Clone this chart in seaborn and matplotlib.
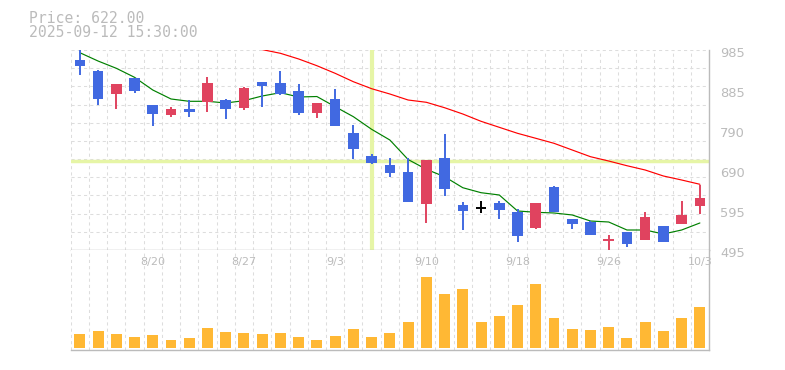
import matplotlib
matplotlib.use("Agg")
import matplotlib.pyplot as plt
import matplotlib.transforms as mtrans
import numpy as np
import pandas as pd
import seaborn as sns

# ---------------- data ----------------
dates = ["8/14", "8/15", "8/18", "8/19", "8/20", "8/21", "8/22", "8/25", "8/26", "8/27",
         "8/28", "8/29", "9/1", "9/2", "9/3", "9/4", "9/5", "9/8", "9/9", "9/10",
         "9/11", "9/12", "9/16", "9/17", "9/18", "9/19", "9/22", "9/24", "9/25", "9/26",
         "9/29", "9/30", "10/1", "10/2", "10/3"]
opens = [960.5, 933.5, 878.0, 916.4, 851.0, 825.8, 840.5, 858.4, 862.5, 842.9,
         906.6, 904.2, 884.6, 831.4, 865.0, 781.7, 725.3, 703.2, 686.1, 608.4,
         720.4, 605.3, 598.7, 610.2, 588.1, 549.6, 649.4, 570.9, 564.3, 519.5,
         539.1, 520.2, 553.8, 559.4, 603.5]
closes = [946.5, 865.0, 901.7, 884.5, 828.2, 840.5, 833.0, 904.2, 840.5, 891.9,
          896.8, 877.2, 830.6, 855.2, 798.8, 743.2, 708.9, 682.9, 613.3, 715.5,
          645.2, 591.3, 598.7, 593.7, 530.0, 610.2, 588.8, 559.4, 532.5, 520.0,
          510.4, 575.9, 515.3, 580.8, 622.0]
highs = [985.0, 936.0, 902.0, 917.0, 851.0, 845.4, 862.5, 918.9, 865.0, 894.4,
         906.6, 933.6, 901.7, 855.2, 889.5, 801.3, 730.2, 720.4, 720.4, 715.5,
         779.2, 612.6, 615.8, 615.0, 595.5, 610.2, 651.8, 570.9, 565.0, 531.8,
         539.1, 588.1, 553.8, 615.0, 654.3]
lows = [924.5, 850.0, 840.5, 880.4, 799.5, 820.9, 820.9, 833.1, 815.9, 838.0,
        845.4, 875.5, 825.8, 819.0, 798.8, 718.0, 705.7, 674.6, 613.3, 561.9,
        628.0, 544.7, 586.4, 571.7, 515.3, 547.2, 588.8, 547.2, 532.5, 496.0,
        503.0, 520.2, 515.3, 559.4, 584.0]
volume = [140, 170, 140, 110, 130, 80, 100, 200, 160, 150,
          140, 150, 110, 80, 120, 190, 110, 150, 260, 713,
          540, 590, 260, 320, 430, 640, 300, 190, 180, 210,
          100, 260, 170, 300, 410]
ma_short = [978.4, 958.0, 940.2, 918.1, 887.0, 865.0, 859.3, 859.3, 855.2, 860.8,
            872.3, 880.4, 869.9, 871.0, 846.1, 821.6, 790.7, 764.5, 716.7, 692.7,
            674.6, 647.6, 635.4, 629.8, 590.6, 587.4, 585.7, 580.8, 566.0, 563.6,
            544.0, 544.0, 534.2, 544.0, 561.2]
ma_long = [np.nan] * 10 + [986.0, 976.9, 963.0, 946.5, 927.9, 907.3, 890.2, 877.2, 862.5, 856.9,
                           843.6, 828.2, 810.3, 795.6, 780.9, 768.7, 756.4, 740.0, 723.6, 713.0,
                           701.5, 691.0, 676.3, 666.5, 656.0]
price_ticks = [985, 887, 789, 691, 593, 495]
price_tick_labels = ["985", "885", "790", "690", "595", "495"]
date_tick_labels = ["8/20", "8/27", "9/3", "9/10", "9/18", "9/26", "10/3"]
title_lines = ["Price: 622.00", "2025-09-12 15:30:00"]
cross_index = 16
cross_price = 712.0

# ---------------- style ----------------
sns.set_theme(style="white")
plt.rcParams["font.family"] = ["DejaVu Sans"]
UP = "#E0435F"
DOWN = "#4169E1"
FLAT = "#000000"
VOL = "#FFB834"
GRID = "#DDDDDD"
AXIS = "#BBBBBB"
TXT = "#BBBBBB"
CROSS = "#E6F5A6"

df = pd.DataFrame({"i": np.arange(len(dates)), "date": dates, "open": opens, "close": closes,
                   "high": highs, "low": lows, "volume": volume,
                   "ma_short": ma_short, "ma_long": ma_long})

W, H = 785, 370
fig = plt.figure(figsize=(W / 100, H / 100), dpi=100)
L, R = 70.7, 709.0
ax = fig.add_axes([L / W, 1 - 250 / H, (R - L) / W, 200 / H])
axv = fig.add_axes([L / W, 1 - 350 / H, (R - L) / W, 100 / H])

n = len(df)
xlim = (-0.5, n - 0.5)
ylo, yhi = 495, 985

for a in (ax, axv):
    a.set_xlim(*xlim)
    a.set_facecolor("white")
    for s in ("top", "left"):
        a.spines[s].set_visible(False)
    for s in ("bottom", "right"):
        a.spines[s].set_visible(True)
        a.spines[s].set_color(AXIS)
        a.spines[s].set_linewidth(1.0)
    a.tick_params(left=False, right=False, bottom=False, top=False,
                  labelleft=False, labelright=False, labelbottom=False)
    a.set_xticks(np.arange(-0.5, n, 1.0))
    a.grid(True, axis="x", color=GRID, linestyle=(0, (3, 3)), linewidth=0.75)
    a.set_axisbelow(True)
    a.set_xlabel("")
    a.set_ylabel("")

ax.set_ylim(ylo, yhi)
ax.set_yticks(np.linspace(ylo, yhi, 12))
ax.grid(True, axis="y", color=GRID, linestyle=(0, (3, 3)), linewidth=0.75)

# crosshair
ax.axvline(cross_index, color=CROSS, linewidth=3.0, zorder=1)
ax.axhline(cross_price, color=CROSS, linewidth=2.5, zorder=1)

# moving averages
sns.lineplot(data=df, x="i", y="ma_short", ax=ax, color="#008000", linewidth=0.85,
             legend=False, zorder=3)
sns.lineplot(data=df.dropna(subset=["ma_long"]), x="i", y="ma_long", ax=ax, color="#FF0000",
             linewidth=0.85, legend=False, zorder=3)

# candles
bw = 0.58
for r in df.itertuples():
    diff = r.close - r.open
    if abs(diff) < 1e-9:
        col = FLAT
    elif diff > 0:
        col = UP
    else:
        col = DOWN
    ax.vlines(r.i, r.low, r.high, color=col, linewidth=1.4, zorder=4)
    if abs(diff) < 1.0:
        ax.hlines((r.open + r.close) / 2, r.i - bw / 2, r.i + bw / 2, color=col,
                  linewidth=1.4, zorder=4)
    else:
        ax.bar(r.i, abs(diff), bottom=min(r.open, r.close), width=bw, color=col,
               linewidth=0, zorder=4)

ax.set_xlim(*xlim)
ax.set_ylim(ylo, yhi)
ax.set_xlabel("")
ax.set_ylabel("")

# price labels on the right
off = mtrans.offset_copy(ax.get_yaxis_transform(), fig=fig, x=11, y=-3.5, units="dots")
for v, lab in zip(price_ticks, price_tick_labels):
    ax.text(1.0, v, lab, transform=off, ha="left", va="center", fontsize=9.4,
            color=TXT, clip_on=False)

# volume
sns.barplot(data=df, x="i", y="volume", ax=axv, native_scale=True, color=VOL,
            saturation=1, width=0.6, linewidth=0, zorder=3)
axv.set_xlim(*xlim)
vmax = 980
axv.set_ylim(-20, vmax)
axv.set_xlabel("")
axv.set_ylabel("")
axv.tick_params(left=False, labelleft=False, bottom=False, labelbottom=False)

date_trans = mtrans.blended_transform_factory(axv.transData, axv.transAxes)
for lab in date_tick_labels:
    xi = dates.index(lab)
    axv.text(xi, 0.88, lab, transform=date_trans, ha="center", va="center",
             fontsize=8, color=TXT, zorder=5)

# header text
fig.text(29 / W, 1 - 23.3 / H, title_lines[0], family="DejaVu Sans Mono", fontsize=10.6,
         color=TXT, ha="left", va="baseline")
fig.text(29 / W, 1 - 37.3 / H, title_lines[1], family="DejaVu Sans Mono", fontsize=10.6,
         color=TXT, ha="left", va="baseline")

fig.savefig("out.png", dpi=100, facecolor="white")
